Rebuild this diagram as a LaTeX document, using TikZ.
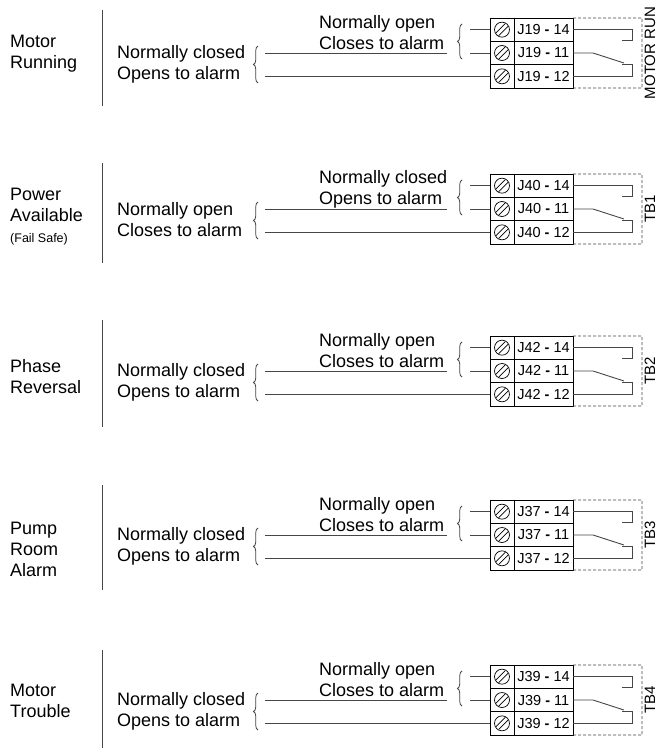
\documentclass[tikz,border=0pt]{standalone}
\usepackage{fontspec}
\setmainfont{Liberation Sans}
\usetikzlibrary{decorations.pathreplacing}
\definecolor{wirec}{RGB}{70,70,70}
\tikzset{
  wire/.style={draw=wirec, line width=0.9pt},
  lbl/.style={font=\fontsize{18}{21}\selectfont, inner sep=0pt, align=left},
  cell/.style={draw=black, line width=0.9pt, minimum height=23.33pt, inner sep=0pt, outer sep=0pt},
  screwcell/.style={cell, minimum width=24pt},
  labcell/.style={cell, minimum width=59pt, font=\fontsize{14.5}{16}\selectfont},
  dbox/.style={draw=wirec, line width=0.8pt, dash pattern=on 3pt off 2pt},
  brc/.style={draw=wirec, line width=0.8pt, decorate, decoration={brace, amplitude=4.5pt}},
  tagtxt/.style={font=\fontsize{15}{17}\selectfont, rotate=90, inner sep=0pt},
  screw/.pic={\draw[line width=0.7pt] (0,0) circle[radius=7.5];
              \draw[line width=0.7pt] (-3.3,6.1) -- (6.1,-3.3) (-6.1,3.3) -- (3.3,-6.1);}
}
\def\NC{Normally closed\\Opens to alarm}
\def\NO{Normally open\\Closes to alarm}
% #1 id, #2 top, #3 name, #4 name centre, #5 line top, #6 line bottom, #7 J, #8 tag
\newcommand\relaysec[8]{%
\begin{scope}[shift={(0,#2)}]
  \coordinate (#1vt) at (102,#5);
  \coordinate (#1vb) at (102,#6);
  \draw[wire] (#1vt) -- (#1vb);
  \node[lbl, anchor=west] (#1name) at (10,#4) {#3};
  \node[screwcell] (#1s1) at (502,11.667) {};
  \node[screwcell] (#1s2) at (502,35) {};
  \node[screwcell] (#1s3) at (502,58.333) {};
  \node[labcell] (#1t1) at (543.5,11.667) {#7 {\bfseries -} 14};
  \node[labcell] (#1t2) at (543.5,35) {#7 {\bfseries -} 11};
  \node[labcell] (#1t3) at (543.5,58.333) {#7 {\bfseries -} 12};
  \pic at (#1s1) {screw};
  \pic at (#1s2) {screw};
  \pic at (#1s3) {screw};
  \coordinate (#1d1) at (642,0);
  \coordinate (#1d2) at (642,70);
  \draw[dbox] (#1t1.north east) -- (#1d1) -- (#1d2) -- (#1t3.south east);
  \draw[wire] (#1t1.east) -- ++(59,0) -- ++(0,11) -- ++(-10,0);
  \draw[wire] (#1t3.east) -- ++(59,0) -- ++(0,-12) -- ++(-10,0);
  \draw[wire] (#1t2.east) -- ++(20,0) -- ++(31,10);
  \coordinate (#1rb1) at (470,11.667);
  \coordinate (#1rb2) at (470,35);
  \draw[wire] (#1rb1) -- (#1s1.west);
  \draw[wire] (#1rb2) -- (#1s2.west);
  \coordinate (#1rbt) at (462,6);
  \coordinate (#1rbb) at (462,41);
  \draw[brc] (#1rbb) -- (#1rbt);
  \coordinate (#1lb1) at (265,35);
  \coordinate (#1lb2) at (447,35);
  \coordinate (#1lb3) at (265,58.333);
  \draw[wire] (#1lb1) -- (#1lb2);
  \draw[wire] (#1lb3) -- (#1s3.west);
  \coordinate (#1lbt) at (258,28);
  \coordinate (#1lbb) at (258,65);
  \draw[brc] (#1lbb) -- (#1lbt);
  \node[lbl, anchor=west] (#1lt) at (117,46) {\lefttext};
  \node[lbl, anchor=west] (#1mt) at (319,15) {\midtext};
  \node[tagtxt] (#1tag) at (650,35) {#8};
\end{scope}}
\begin{document}
\begin{tikzpicture}[x=1pt,y=-1pt]
  \fill[white] (0,0) rectangle (659,752);
  \useasboundingbox (0,0) rectangle (659,752);
  \def\lefttext{\NC}\def\midtext{\NO}
  \relaysec{a}{18}{Motor\\Running}{36}{-8}{88}{J19}{MOTOR RUN}
  \def\lefttext{\NO}\def\midtext{\NC}
  \relaysec{b}{174}{Power\\Available\\{\fontsize{12.5}{15}\selectfont (Fail Safe)}}{43}{-11}{89}{J40}{TB1}
  \def\lefttext{\NC}\def\midtext{\NO}
  \relaysec{c}{336}{Phase\\Reversal}{41}{-16}{91}{J42}{TB2}
  \relaysec{d}{500}{Pump\\Room\\Alarm}{49}{-15}{90}{J37}{TB3}
  \relaysec{e}{665}{Motor\\Trouble}{36}{-15}{83}{J39}{TB4}
\end{tikzpicture}
\end{document}
